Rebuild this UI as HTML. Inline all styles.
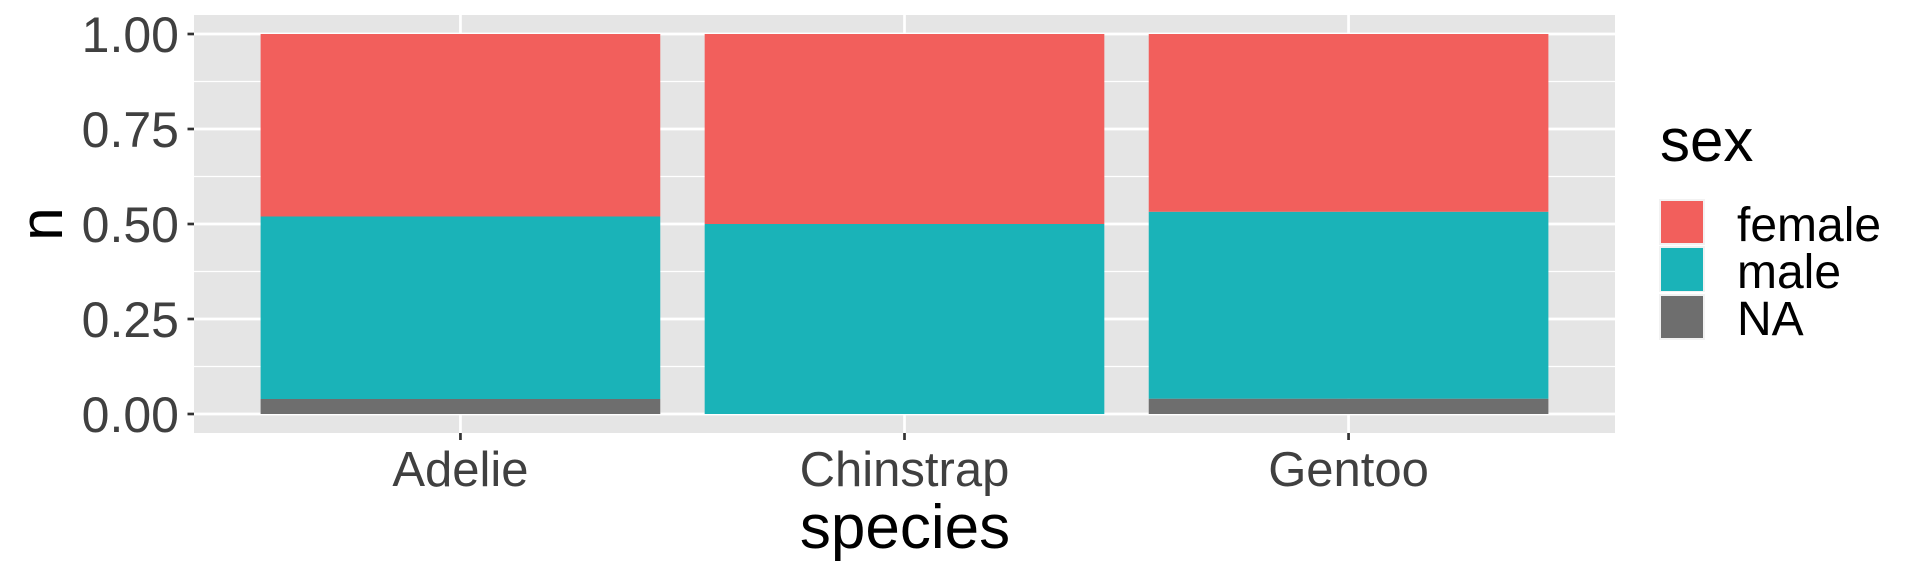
<!DOCTYPE html>
<html><head><meta charset="utf-8"><style>
body{margin:0;background:#fff;}
svg{display:block;font-family:"Liberation Sans",Arial,sans-serif;}
</style></head><body>
<svg id="chart" width="1920" height="576" xmlns="http://www.w3.org/2000/svg">
<rect x="0" y="0" width="1920" height="576" fill="#fff"/>
<g id="panel"></g>
<g id="axes"></g>
<text x="905" y="548" font-size="62" text-anchor="middle" fill="#000">species</text>
<text transform="translate(62,224) rotate(-90)" font-size="60" text-anchor="middle" fill="#000">n</text>
<g>
<text x="1660" y="161" font-size="60" fill="#000">sex</text>
<rect x="1659" y="199" width="46" height="46" fill="#f2f2f2"/>
<rect x="1661" y="201" width="42" height="42" fill="#F25F5C"/>
<rect x="1659" y="246" width="46" height="46" fill="#f2f2f2"/>
<rect x="1661" y="248" width="42" height="43" fill="#1AB3B8"/>
<rect x="1659" y="294" width="46" height="46" fill="#f2f2f2"/>
<rect x="1661" y="296" width="42" height="42" fill="#6e6e6e"/>
<text x="1737" y="241" font-size="48" fill="#000">female</text>
<text x="1737" y="288" font-size="48" fill="#000">male</text>
<text x="1737" y="335" font-size="48" fill="#000">NA</text>
</g>
</svg>
<script>
const categories = ["Adelie", "Chinstrap", "Gentoo"];
const naCounts = [6, 0, 5];
const maleCounts = [73, 34, 61];
const femaleCounts = [73, 34, 58];
const yTicks = [0, 0.25, 0.5, 0.75, 1];
const yTickLabels = ["0.00", "0.25", "0.50", "0.75", "1.00"];

const NS = "http://www.w3.org/2000/svg";
const PL = 194, PR = 1615, PT = 15, PB = 433;
const Y0 = 414, Y1 = 34;
const unit = (PR - PL) / (categories.length + 0.2);
function xScale(i){ return PL + (0.6 + i) * unit; }
function yScale(v){ return Y0 + (Y1 - Y0) * v; }
function mk(tag, attrs, parent){ const e = document.createElementNS(NS, tag); for (const k in attrs) e.setAttribute(k, attrs[k]); parent.appendChild(e); return e; }

const panel = document.getElementById('panel');
const axes = document.getElementById('axes');
const bg = mk('rect', {x:PL, y:PT, width:PR-PL, height:PB-PT, fill:'#e5e5e5'}, panel);


for (let i = 0; i < yTicks.length - 1; i++) {
  const v = (yTicks[i] + yTicks[i+1]) / 2;
  const l = mk('line', {x1:PL, x2:PR, y1:yScale(v), y2:yScale(v), stroke:'#fff', 'stroke-width':1.3}, panel);
  
  
}
yTicks.forEach((v, i) => {
  const y = yScale(v);
  const l = mk('line', {x1:PL, x2:PR, y1:y, y2:y, stroke:'#fff', 'stroke-width':2.7}, panel);
  
  
  const t = mk('line', {x1:187.5, x2:PL, y1:y, y2:y, stroke:'#333', 'stroke-width':2.7}, axes);
  
  
  const tx = mk('text', {x:179, y:y+18, 'font-size':50, 'text-anchor':'end', fill:'#404040'}, axes);
  tx.textContent = yTickLabels[i];
  
  
});
categories.forEach((c, i) => {
  const x = xScale(i);
  const l = mk('line', {x1:x, x2:x, y1:PT, y2:PB, stroke:'#fff', 'stroke-width':2.7}, panel);
  
  
  const t = mk('line', {x1:x, x2:x, y1:PB, y2:PB+7, stroke:'#333', 'stroke-width':2.7}, axes);
  
  
  const tx = mk('text', {x:x, y:486, 'font-size':49, 'text-anchor':'middle', fill:'#404040'}, axes);
  tx.textContent = c;
  
  
  const total = naCounts[i] + maleCounts[i] + femaleCounts[i];
  const segs = [[naCounts[i], '#6e6e6e', 'na'], [maleCounts[i], '#1AB3B8', 'male'], [femaleCounts[i], '#F25F5C', 'female']];
  let cum = 0;
  const bw = 0.9 * unit;
  segs.forEach(s => {
    const v0 = cum / total, v1 = (cum + s[0]) / total;
    cum += s[0];
    if (s[0] <= 0) return;
    const r = mk('rect', {x:x-bw/2, y:yScale(v1), width:bw, height:yScale(v0)-yScale(v1), fill:s[1]}, panel);
    
    
  });
});
</script>
</body></html>
